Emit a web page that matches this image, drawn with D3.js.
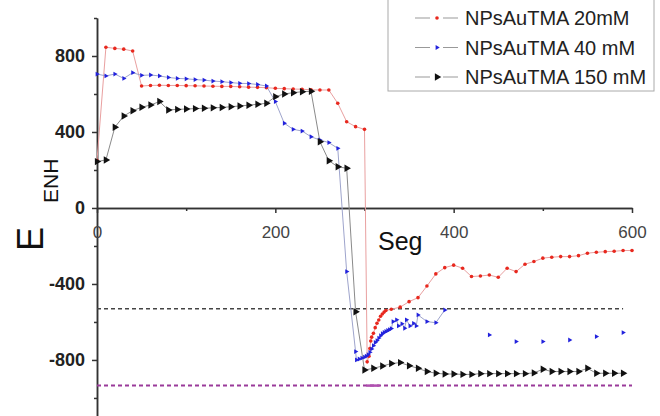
<!DOCTYPE html>
<meta charset="utf-8">
<style>
    body { margin: 0; background: #fff; }
    text { font-family: Arial, "Liberation Sans", sans-serif; }
    .ylab text { font-weight: bold; font-size: 18px; fill: #222; }
    .xlab text { font-size: 17px; fill: #444; }
    .domain, .tick line { stroke: #333; stroke-width: 1.5px; }
</style>
<body>
<div id="d3_target"></div>
<script src="https://d3js.org/d3.v7.min.js"></script>
<script>
    var width = 660,
        height = 416;

    // series: Seg (x) and E_ENH (y)
    var redX = [0, 10, 20, 30, 40, 50, 60, 70, 80, 90, 100, 110, 120, 130, 140, 150, 160, 170, 180, 190,
        200, 210, 220, 230, 240, 250, 260, 270, 280, 290, 300,
        303, 305, 306, 307, 308, 310, 312, 314, 316, 318, 320, 322, 324,
        330, 340, 350, 360, 370, 380, 390, 400, 410, 420, 430, 440, 450, 460, 470, 480, 490,
        500, 510, 520, 530, 540, 550, 560, 570, 580, 590, 600];
    var redY = [250, 846, 840, 836, 826, 642, 645, 646, 645, 645, 644, 643, 642, 641, 640, 640, 638, 636, 635, 633,
        630, 628, 626, 625, 622, 621, 621, 551, 454, 428, 414,
        -810, -780, -740, -700, -680, -660, -630, -607, -590, -570, -558, -548, -540,
        -533, -522, -493, -472, -411, -347, -314, -301, -317, -361, -358, -353, -365, -317, -335, -296, -282,
        -264, -259, -256, -256, -251, -238, -233, -230, -228, -224, -224];

    var blueX = [0, 10, 20, 30, 40, 50, 60, 70, 80, 90, 100, 110, 120, 130, 140, 150, 160, 170, 180, 190,
        200, 210, 220, 230, 240, 250, 260, 270, 280, 290,
        291, 294, 297, 300, 302, 304, 306, 308, 310, 312, 314, 316, 318, 320, 322, 324, 326, 328, 330,
        332, 336, 338, 342, 345, 347, 351, 355, 358, 360, 370, 380, 390,
        400, 440, 450, 470, 480, 500, 510, 530, 540, 560, 570, 590];
    var blueY = [705, 695, 705, 682, 712, 698, 700, 695, 687, 682, 680, 676, 673, 668, 665, 660, 656, 655, 650, 642,
        560, 446, 414, 405, 375, 358, 344, 314, -335, -756,
        -800, -795, -790, -785, -780, -772, -760, -742, -725, -708, -698, -685, -672, -662, -655, -650, -645, -640, -635,
        -598, -589, -621, -610, -633, -589, -621, -607, -621, -563, -598, -604, -537,
        null, -668, null, -703, null, -703, null, -695, null, -677, null, -656];

    var blackX = [0, 10, 20, 30, 40, 50, 60, 70, 80, 90, 100, 110, 120, 130, 140, 150, 160, 170, 180, 190,
        200, 210, 220, 230, 240, 250, 260, 270, 280, 290, 300, 310, 320, 330, 340, 350, 360, 370, 380, 390,
        400, 410, 420, 430, 440, 450, 460, 470, 480, 490, 500, 510, 520, 530, 540, 550, 560, 570, 580, 590];
    var blackY = [244, 253, 425, 484, 512, 530, 542, 560, 516, 519, 521, 523, 525, 527, 529, 533, 537, 541, 546, 551,
        586, 600, 607, 612, 614, 349, 249, 217, 209, -546, -853, -844, -832, -819, -814, -830, -844, -861, -870, -874,
        -874, -876, -876, -872, -872, -872, -872, -872, -872, -868, -849, -861, -861, -861, -861, -844, -870, -870, -870, -870];

    var seriesNames = ["NPsAuTMA 20mM", "NPsAuTMA 40 mM", "NPsAuTMA 150 mM"];

    // reference levels
    var refBlack = { x: [0, 590], y: -530 };
    var refPurple = { x: [0, 600], y: -935 };
    var purpleSolid = { x: [302, 317], y: -935 };

    var yMajor = [800, 400, 0, -400, -800],
        yMinor = [1000, 600, 200, -200, -600, -1000],
        xMajor = [0, 200, 400, 600],
        xMinor = [100, 300, 500];

    var x = d3.scaleLinear().domain([0, 600]).range([97, 632]);
    var y = d3.scaleLinear().domain([-1095, 1000]).range([416, 18]);

    var svg = d3.select("#d3_target").append("svg")
        .attr("width", width)
        .attr("height", height);

    // axes
    svg.append("g")
        .attr("transform", "translate(" + x(0) + ",0)")
        .call(d3.axisLeft(y).tickValues(yMinor).tickSize(3).tickSizeOuter(0).tickFormat(""));
    svg.append("g")
        .attr("class", "ylab")
        .attr("transform", "translate(" + x(0) + ",0)")
        .call(d3.axisLeft(y).tickValues(yMajor).tickSize(5).tickSizeOuter(0).tickPadding(7)
            .tickFormat(function (d) { return String(d); }));

    svg.append("g")
        .attr("transform", "translate(0," + y(0) + ")")
        .call(d3.axisBottom(x).tickValues(xMinor).tickSize(3).tickSizeOuter(0).tickFormat(""));
    svg.append("g")
        .attr("class", "xlab")
        .attr("transform", "translate(0," + y(0) + ")")
        .call(d3.axisBottom(x).tickValues(xMajor).tickSize(5).tickSizeOuter(0).tickPadding(13));

    // dashed reference lines
    svg.append("line")
        .attr("x1", x(refBlack.x[0])).attr("x2", x(refBlack.x[1]))
        .attr("y1", y(refBlack.y)).attr("y2", y(refBlack.y))
        .style("stroke", "#444").style("stroke-width", 1.5).style("stroke-dasharray", "4,3");
    svg.append("line")
        .attr("x1", x(refPurple.x[0])).attr("x2", x(refPurple.x[1]))
        .attr("y1", y(refPurple.y)).attr("y2", y(refPurple.y))
        .style("stroke", "#9a3a9a").style("stroke-width", 2).style("stroke-dasharray", "4,3");
    svg.append("line")
        .attr("x1", x(purpleSolid.x[0])).attr("x2", x(purpleSolid.x[1]))
        .attr("y1", y(purpleSolid.y)).attr("y2", y(purpleSolid.y))
        .style("stroke", "#b050b0").style("stroke-width", 2.5);

    var series = [
        { xs: redX, ys: redY, line: "#e9a0a0", fill: "#e8281e", shape: "dot", size: 1.8 },
        { xs: blueX, ys: blueY, line: "#9ea4cc", fill: "#2222dd", shape: "tri", size: 10 },
        { xs: blackX, ys: blackY, line: "#8a8a8a", fill: "#111", shape: "tri", size: 24 }
    ];

    var line = d3.line()
        .defined(function (d) { return d[1] !== null; })
        .x(function (d) { return x(d[0]); })
        .y(function (d) { return y(d[1]); });

    series.forEach(function (s) {
        var pts = s.xs.map(function (v, i) { return [v, s.ys[i]]; });
        svg.append("path")
            .datum(pts)
            .attr("d", line)
            .style("fill", "none")
            .style("stroke", s.line)
            .style("stroke-width", 1);
    });

    function drawMarker(g, s, px, py) {
        if (s.shape === "dot") {
            g.append("circle").attr("cx", px).attr("cy", py).attr("r", s.size).style("fill", s.fill);
        } else {
            g.append("path")
                .attr("d", d3.symbol().type(d3.symbolTriangle).size(s.size)())
                .attr("transform", "translate(" + px + "," + py + ") rotate(90)")
                .style("fill", s.fill);
        }
    }

    series.forEach(function (s) {
        var g = svg.append("g");
        s.xs.forEach(function (v, i) {
            if (s.ys[i] === null) return;
            drawMarker(g, s, x(v), y(s.ys[i]));
        });
    });

    // axis titles
    svg.append("text")
        .attr("x", 378).attr("y", 250)
        .style("font-size", "25px").style("fill", "#111")
        .text("Seg");

    var yt = svg.append("text")
        .attr("transform", "translate(43,251) rotate(-90)")
        .style("font-size", "36px").style("fill", "#111");
    yt.append("tspan").text("E");
    yt.append("tspan").attr("dx", 24).attr("dy", 15).style("font-size", "21px").text("ENH");

    // legend
    var lg = svg.append("g");
    lg.append("rect")
        .attr("x", 388).attr("y", -2).attr("width", 266).attr("height", 93)
        .style("fill", "#fff").style("stroke", "#aaa").style("stroke-width", 1);
    seriesNames.forEach(function (name, i) {
        var ly = 18 + i * 29.5, s = series[i];
        lg.append("line").attr("x1", 415).attr("x2", 430).attr("y1", ly).attr("y2", ly)
            .style("stroke", "#999").style("stroke-width", 1);
        lg.append("line").attr("x1", 443).attr("x2", 458).attr("y1", ly).attr("y2", ly)
            .style("stroke", "#999").style("stroke-width", 1);
        drawMarker(lg, s, 437, ly);
        lg.append("text")
            .attr("x", 465).attr("y", ly).attr("dy", "0.36em")
            .style("font-size", "20px").style("fill", "#222")
            .text(name);
    });
</script>
</body>
